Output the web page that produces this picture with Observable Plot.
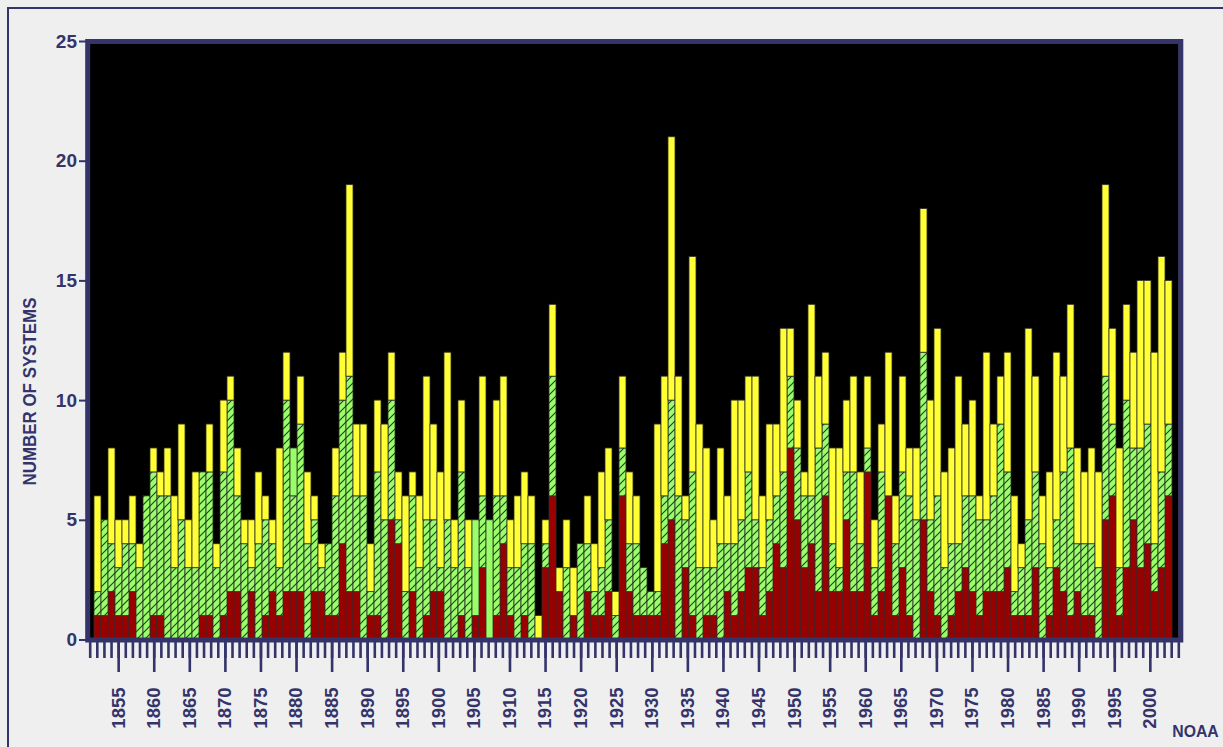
<!DOCTYPE html>
<html><head><meta charset="utf-8">
<script src="https://cdn.jsdelivr.net/npm/d3@7"></script>
<script src="https://cdn.jsdelivr.net/npm/@observablehq/plot@0.6"></script>
<style>
html,body{margin:0;padding:0;background:#efeff0;width:1223px;height:747px;overflow:hidden;}
#wrap{position:relative;width:1223px;height:747px;}
#border{position:absolute;left:7px;top:7px;width:1300px;height:900px;border:2.5px solid #34346a;box-sizing:border-box;}
#wrap svg{position:absolute;left:0;top:0;}
</style></head><body><div id="wrap"><div id="border"></div></div>
<script>
const firstYear = 1851;
// total named systems per season
const storms = [
 6,5,8,5,5,6,4,6,8,7,
 8,6,9,5,7,7,9,4,10,11,
 8,5,5,7,6,5,8,12,8,11,
 7,6,4,4,8,12,19,9,9,4,
 10,9,12,7,6,7,6,11,9,7,
 12,5,10,5,5,11,5,10,11,5,
 6,7,6,1,5,14,3,5,3,4,
 6,4,7,8,2,11,7,6,3,2,
 9,11,21,11,6,16,9,8,5,8,
 6,10,10,11,11,6,9,9,13,13,
 10,7,14,11,12,8,8,10,11,7,
 11,5,9,12,6,11,8,8,18,10,
 13,7,8,11,9,10,6,12,9,11,
 12,6,4,13,11,6,7,12,11,14,
 8,7,8,7,19,13,8,14,12,15,
 15,12,16,15];
// hurricanes per season
const hurricanes = [
 2,5,4,3,4,4,3,6,7,6,
 6,3,5,3,3,7,7,3,7,10,
 6,4,3,4,5,4,3,10,6,9,
 4,5,3,4,6,10,11,6,6,2,
 7,5,10,5,2,6,3,5,5,3,
 5,3,7,3,1,6,0,6,6,3,
 3,4,4,0,4,11,2,3,1,4,
 4,2,3,5,1,8,4,4,3,2,
 2,6,10,6,5,7,3,3,3,4,
 4,4,5,7,5,3,5,6,7,11,
 8,6,6,8,9,4,3,7,7,4,
 8,3,7,6,4,7,6,5,12,5,
 6,3,4,4,6,6,5,5,6,9,
 7,2,3,5,7,4,3,5,7,8,
 4,4,4,3,11,9,3,10,8,8,
 9,4,7,9];
// major hurricanes per season
const majors = [
 1,1,2,1,1,2,0,0,1,1,
 0,0,0,0,0,1,1,0,1,2,
 2,0,2,0,1,2,1,2,2,2,
 0,2,2,1,1,4,2,2,0,1,
 1,0,5,4,0,2,0,1,2,2,
 0,0,1,0,1,3,0,1,4,1,
 0,1,0,0,3,6,2,0,1,0,
 2,1,1,2,0,6,2,1,1,1,
 1,4,5,0,3,1,0,1,1,0,
 2,1,2,3,3,1,2,4,3,8,
 5,3,4,2,6,2,2,5,2,2,
 7,1,2,6,1,3,1,0,5,2,
 1,0,1,2,3,2,1,2,2,2,
 3,1,1,1,3,0,1,3,2,1,
 2,1,1,0,5,6,1,3,5,3,
 4,2,3,6];
// seasons whose storm segment is drawn in plain green in the source
const plainGreenYears = [1879, 1905, 1907];
const yTicks = [0, 5, 10, 15, 20, 25];
const labelYears = [1855,1860,1865,1870,1875,1880,1885,1890,1895,1900,1905,1910,1915,1920,1925,1930,1935,1940,1945,1950,1955,1960,1965,1970,1975,1980,1985,1990,1995,2000];
const yTitle = "NUMBER OF SYSTEMS";
const credit = "NOAA";

const years = storms.map((_, i) => firstYear + i);
const table = years.map((year, i) => ({year, storms: storms[i], hurricanes: hurricanes[i], majors: majors[i], plain: plainGreenYears.includes(year)}));

const navy = "#34346a", red = "#990000", yellow = "#ffff33", green = "#99ff66", edge = "#2e2e2e";
const font = "Liberation Sans, Arial, sans-serif";
const W = 1223, H = 747, mL = 87.2, mR = 44.7, mT = 41, mB = 107.5;

const chart = Plot.plot({
  width: W, height: H, marginLeft: mL, marginRight: mR, marginTop: mT, marginBottom: mB,
  style: {background: "transparent", color: navy, fontFamily: font, overflow: "visible"},
  x: {type: "band", domain: years, padding: 0, axis: null},
  y: {domain: [0, 25], label: null},
  marks: [
    Plot.frame({fill: "black"}),
    Plot.barY(table.filter(d => d.majors > 0), {x: "year", y1: 0, y2: "majors", fill: red, stroke: edge, strokeWidth: 0.8}),
    Plot.barY(table.filter(d => d.hurricanes > d.majors), {x: "year", y1: "majors", y2: "hurricanes", fill: "url(#hatch)", stroke: edge, strokeWidth: 0.8}),
    Plot.barY(table.filter(d => d.storms > d.hurricanes && !d.plain), {x: "year", y1: "hurricanes", y2: "storms", fill: yellow, stroke: edge, strokeWidth: 0.8}),
    Plot.barY(table.filter(d => d.storms > d.hurricanes && d.plain), {x: "year", y1: "hurricanes", y2: "storms", fill: green, stroke: edge, strokeWidth: 0.8}),
    Plot.frame({stroke: navy, strokeWidth: 5, insetRight: -2}),
    Plot.axisY({ticks: yTicks, tickSize: 8.2, tickPadding: 2.5, fontSize: 19, fontWeight: "bold", strokeWidth: 2, label: null, tickFormat: d => String(d)}),
    Plot.text([yTitle], {text: d => d, frameAnchor: "left", textAnchor: "middle", dx: -57.5, dy: 50.75, rotate: -90, fontSize: 18, fontWeight: "bold", fill: navy}),
    Plot.text([credit], {text: d => d, frameAnchor: "bottom-right", textAnchor: "middle", dx: 16.7, dy: 96.5, fontSize: 16.5, fontWeight: "bold", fill: navy})
  ]
});

// hatch pattern for the hurricane segment
const ns = "http://www.w3.org/2000/svg";
const defs = document.createElementNS(ns, "defs");
const pat = document.createElementNS(ns, "pattern");
pat.setAttribute("id", "hatch");
pat.setAttribute("patternUnits", "userSpaceOnUse");
pat.setAttribute("width", "8");
pat.setAttribute("height", "8");
const bg = document.createElementNS(ns, "rect");
bg.setAttribute("width", "8"); bg.setAttribute("height", "8"); bg.setAttribute("fill", green);
const ln = document.createElementNS(ns, "path");
ln.setAttribute("d", "M0,8L8,0M-2,2L2,-2M6,10L10,6");
ln.setAttribute("stroke", "#333333"); ln.setAttribute("stroke-width", "1.1");
pat.appendChild(bg); pat.appendChild(ln); defs.appendChild(pat);
chart.insertBefore(defs, chart.firstChild);
chart.querySelectorAll("text").forEach(t => {
  if (t.textContent === yTitle) { t.setAttribute("textLength", "188"); t.setAttribute("lengthAdjust", "spacingAndGlyphs"); }
  if (t.textContent === credit) { t.setAttribute("textLength", "46.5"); t.setAttribute("lengthAdjust", "spacingAndGlyphs"); }
});

// the year axis of the source is laid out on its own slightly different spacing
const axis = Plot.plot({
  width: W, height: H, marginLeft: 0, marginRight: 0, marginTop: mT, marginBottom: mB,
  style: {background: "transparent", color: navy, fontFamily: font, overflow: "visible"},
  x: {type: "linear", domain: [firstYear, years[years.length - 1]], range: [89.7, 1178.3]},
  marks: [
    Plot.axisX({ticks: years, tickSize: 18.5, tickFormat: () => "", strokeWidth: 2.6, label: null}),
    Plot.axisX({ticks: labelYears, tickSize: 32.5, tickPadding: 15, tickRotate: -90, tickFormat: d => String(d), fontSize: 18.5, fontWeight: "bold", strokeWidth: 2.6, label: null})
  ]
});

const wrap = document.getElementById("wrap");
wrap.appendChild(chart);
wrap.appendChild(axis);
</script></body></html>
